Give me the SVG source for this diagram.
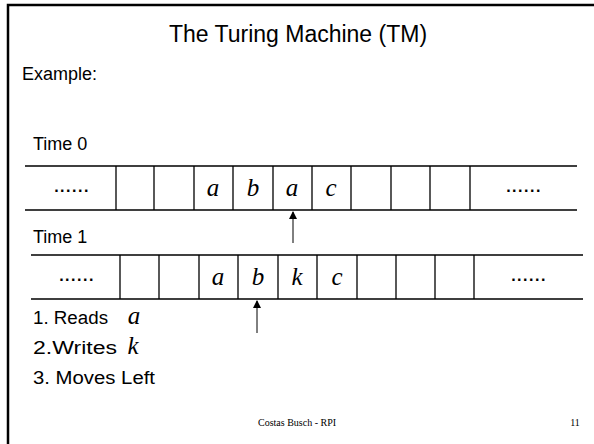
<svg xmlns="http://www.w3.org/2000/svg" width="594" height="444" viewBox="0 0 594 444">
<defs>
<style>
.sans{font-family:"Liberation Sans",Arial,sans-serif;fill:#000}
.it{font-family:"Liberation Serif","Times New Roman",serif;font-style:italic;fill:#000;font-size:25px;text-anchor:middle}
.ln{stroke:#000;stroke-width:1.3;fill:none}
.dots{font-family:"Liberation Sans",Arial,sans-serif;font-size:16px;font-weight:bold;letter-spacing:1.5px;text-anchor:middle;fill:#000}
.foot{font-family:"Liberation Serif","Times New Roman",serif;font-size:10px;fill:#000}
</style>
<marker id="ah" markerWidth="8" markerHeight="10" refX="7" refY="4" orient="auto" markerUnits="userSpaceOnUse">
<path d="M0,0 L8,4 L0,8 Z" fill="#000"/>
</marker>
</defs>
<rect x="0" y="0" width="594" height="444" fill="#fff"/>
<path d="M8,450 L8,5 L600,5" fill="none" stroke="#000" stroke-width="2.5"/>
<text class="sans" x="298" y="42" font-size="23" text-anchor="middle">The Turing Machine (TM)</text>
<text class="sans" x="22" y="80" font-size="18">Example:</text>
<text class="sans" x="33" y="150" font-size="18">Time 0</text>
<text class="sans" x="33" y="243" font-size="18">Time 1</text>
<g id="tape0">
<path class="ln" d="M25,166 H577 M25,210 H577 M116,166 V210 M154,166 V210 M194,166 V210 M233,166 V210 M273,166 V210 M312,166 V210 M351,166 V210 M391,166 V210 M430,166 V210 M470,166 V210"/>
<text class="dots" x="72" y="192">......</text>
<text class="it" x="213" y="196">a</text>
<text class="it" x="253" y="196">b</text>
<text class="it" x="292" y="196">a</text>
<text class="it" x="331" y="196">c</text>
<text class="dots" x="524" y="192">......</text>
</g>
<g id="tape1">
<path class="ln" d="M31,255 H583 M31,299 H583 M120,255 V299 M159,255 V299 M199,255 V299 M238,255 V299 M278,255 V299 M317,255 V299 M357,255 V299 M396,255 V299 M435,255 V299 M474,255 V299"/>
<text class="dots" x="77" y="281">......</text>
<text class="it" x="218" y="285">a</text>
<text class="it" x="258" y="285">b</text>
<text class="it" x="297" y="285">k</text>
<text class="it" x="337" y="285">c</text>
<text class="dots" x="529" y="281">......</text>
</g>
<g id="connectors">
<line x1="293" y1="243" x2="293" y2="212" stroke="#000" stroke-width="1" marker-end="url(#ah)"/>
<line x1="257" y1="333" x2="257" y2="301" stroke="#000" stroke-width="1" marker-end="url(#ah)"/>
</g>
<g id="steps">
<text class="sans" x="33" y="324" font-size="18" textLength="75" lengthAdjust="spacingAndGlyphs">1. Reads</text>
<text class="it" x="134" y="324" font-size="30">a</text>
<text class="sans" x="33" y="354" font-size="18" textLength="84" lengthAdjust="spacingAndGlyphs">2.Writes</text>
<text class="it" x="133" y="354" font-size="30">k</text>
<text class="sans" x="33" y="384" font-size="18" textLength="122" lengthAdjust="spacingAndGlyphs">3. Moves Left</text>
</g>
<text class="foot" x="297" y="426" text-anchor="middle">Costas Busch - RPI</text>
<text class="foot" x="575" y="426" text-anchor="middle">11</text>
</svg>
